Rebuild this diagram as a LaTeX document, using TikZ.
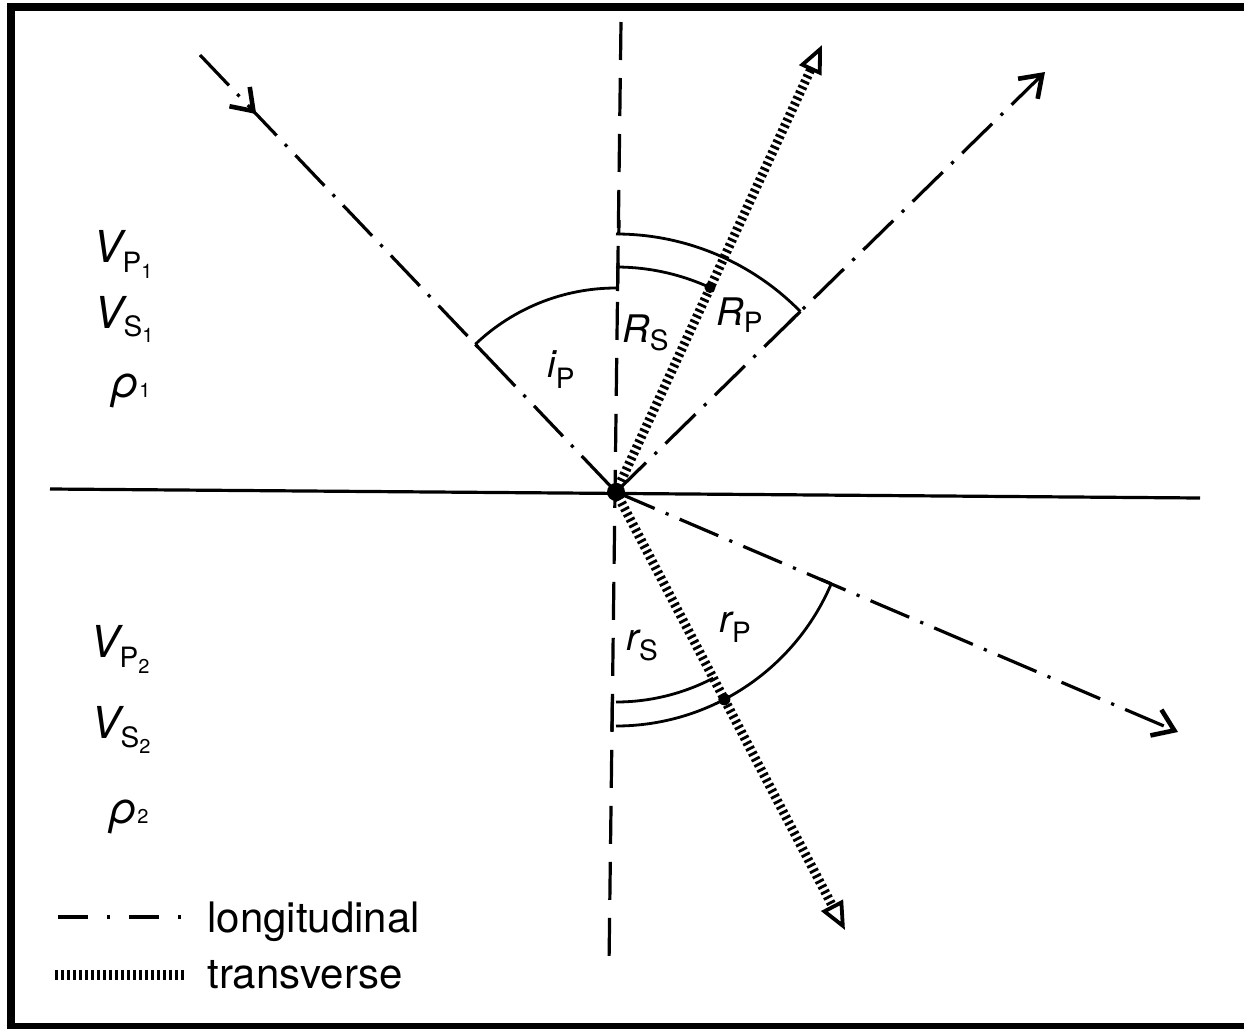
\documentclass[tikz,border=0pt]{standalone}
\usepackage{fontspec}
\setmainfont{TeX Gyre Heros}
\usetikzlibrary{arrows.meta,decorations.markings,calc}
\tikzset{
  longi/.style={line width=1.6pt, dash pattern=on 21pt off 6pt on 1.6pt off 6pt},
  trans/.style={line width=4.6pt, dash pattern=on 1.4pt off 1.6pt},
  vert/.style={line width=1.6pt, dash pattern=on 19pt off 9pt},
  arcline/.style={line width=1.4pt},
  tickline/.style={line width=1.6pt},
  pbarb/.style={-{Straight Barb[length=10pt,width=14pt,line width=2.3pt]}},
  stri/.style={-{Triangle[open,length=14pt,width=12pt,line width=1.9pt]}},
  lab/.style={anchor=base west, inner sep=0pt},
  dotn/.style={circle, fill, inner sep=0pt, minimum size=#1},
}
\newcommand{\vlab}[1]{{\fontsize{22}{24}\selectfont\itshape #1}}
\newcommand{\alab}[1]{{\fontsize{19}{21}\selectfont\itshape #1}}
\newcommand{\sublab}[2]{\raisebox{#1}{\fontsize{14}{15}\selectfont #2}}
\newcommand{\subsublab}[2]{\raisebox{#1}{\fontsize{10}{11}\selectfont #2}}
\begin{document}
\begin{tikzpicture}[x=0.5pt,y=-0.5pt]
\useasboundingbox (0,0) rectangle (1244,1029);
% frame
\draw[line width=4pt] (1250,7) -- (10.5,7) -- (10.5,1026.5) -- (1250,1026.5);
% key points
\coordinate (O) at (616,492);
\coordinate (inc) at (200,55);
\coordinate (rp) at (1045,72);
\coordinate (rs) at (822,45);
\coordinate (tp) at (1178,732);
\coordinate (ts) at (845,930);
\coordinate (vt) at (621,22);
\coordinate (vb) at (609,965);
\coordinate (hl) at (50,489);
\coordinate (hr) at (1200,498);
% interface and normal
\draw[line width=1.6pt] (hl) -- (hr);
\draw[vert] (vt) -- (vb);
% rays
\draw[longi, postaction={decorate}, decoration={markings, mark=at position 0.135 with {\arrow{Straight Barb[length=10pt,width=14pt,line width=2.3pt]}}}] (inc) -- (O);
\draw[longi,pbarb] (O) -- (rp);
\draw[longi,pbarb] (O) -- (tp);
\draw[trans,stri] (O) -- (rs);
\draw[trans,stri] (O) -- (ts);
% angle arcs
\draw[arcline] (O) ++(-133.6:204) arc[start angle=-133.6, end angle=-90, radius=204];
\draw[arcline] (O) ++(-90:225) arc[start angle=-90, end angle=-65.3, radius=225];
\draw[arcline] (O) ++(-90:258) arc[start angle=-90, end angle=-44.4, radius=258];
\draw[arcline] (O) ++(90:210) arc[start angle=90, end angle=62.4, radius=210];
\draw[arcline] (O) ++(90:234) arc[start angle=90, end angle=23.1, radius=234];
% ticks at arc ends
\draw[tickline] (618,263) -- (617.5,291);
\draw[tickline] (619,220) -- (618.8,235);
\draw[tickline] (612.5,697) -- (612,731);
\draw[tickline] (O) ++(-133.6:204) -- ++(46.4:16);
\draw[tickline] (O) ++(-44.4:258) -- ++(135.6:16);
\draw[tickline] (O) ++(23.1:234) -- ++(-156.9:12);
% dots
\node[dotn=9pt] (Odot) at (O) {};
\node[dotn=5.5pt] (d1) at ($(O)+(-65.3:225)$) {};
\node[dotn=6pt] (d2) at ($(O)+(62.4:234)$) {};
% angle labels
\node[lab] (iP) at (547,377) {\alab{i}\sublab{-5.5pt}{P}};
\node[lab] (RS) at (622,342) {\alab{R}\sublab{-4pt}{S}};
\node[lab] (RP) at (716,325) {\alab{R}\sublab{-3.5pt}{P}};
\node[lab] (rS) at (626,650) {\alab{r}\sublab{-5pt}{S}};
\node[lab] (rP) at (719,632) {\alab{r}\sublab{-5pt}{P}};
% medium labels
\node[lab] (vp1) at (93,262) {\vlab{V}\sublab{-5pt}{P\subsublab{-3pt}{1}}};
\node[lab] (vs1) at (94,328) {\vlab{V}\sublab{-4pt}{S\subsublab{-3pt}{1}}};
\node[lab] (rho1) at (111,397) {\vlab{ρ}\subsublab{0pt}{1}};
\node[lab] (vp2) at (90,657) {\vlab{V}\sublab{-5pt}{P\subsublab{-3pt}{2}}};
\node[lab] (vs2) at (91,738) {\vlab{V}\sublab{-4.5pt}{S\subsublab{-3pt}{2}}};
\node[lab] (rho2) at (109,823) {\vlab{ρ}\subsublab{0pt}{2}};
% legend
\coordinate (l1a) at (58,917);
\coordinate (l1b) at (186,917);
\coordinate (l2a) at (55,975);
\coordinate (l2b) at (185,975);
\draw[line width=1.6pt, dash pattern=on 15pt off 9.5pt on 1.6pt off 9.5pt] (l1a) -- (l1b);
\draw[line width=5pt, dash pattern=on 1.4pt off 1.6pt] (l2a) -- (l2b);
\node[lab, font=\fontsize{21}{24}\selectfont] (leg1) at (207,932) {longitudinal};
\node[lab, font=\fontsize{21}{24}\selectfont] (leg2) at (207,988) {transverse};
\end{tikzpicture}
\end{document}
